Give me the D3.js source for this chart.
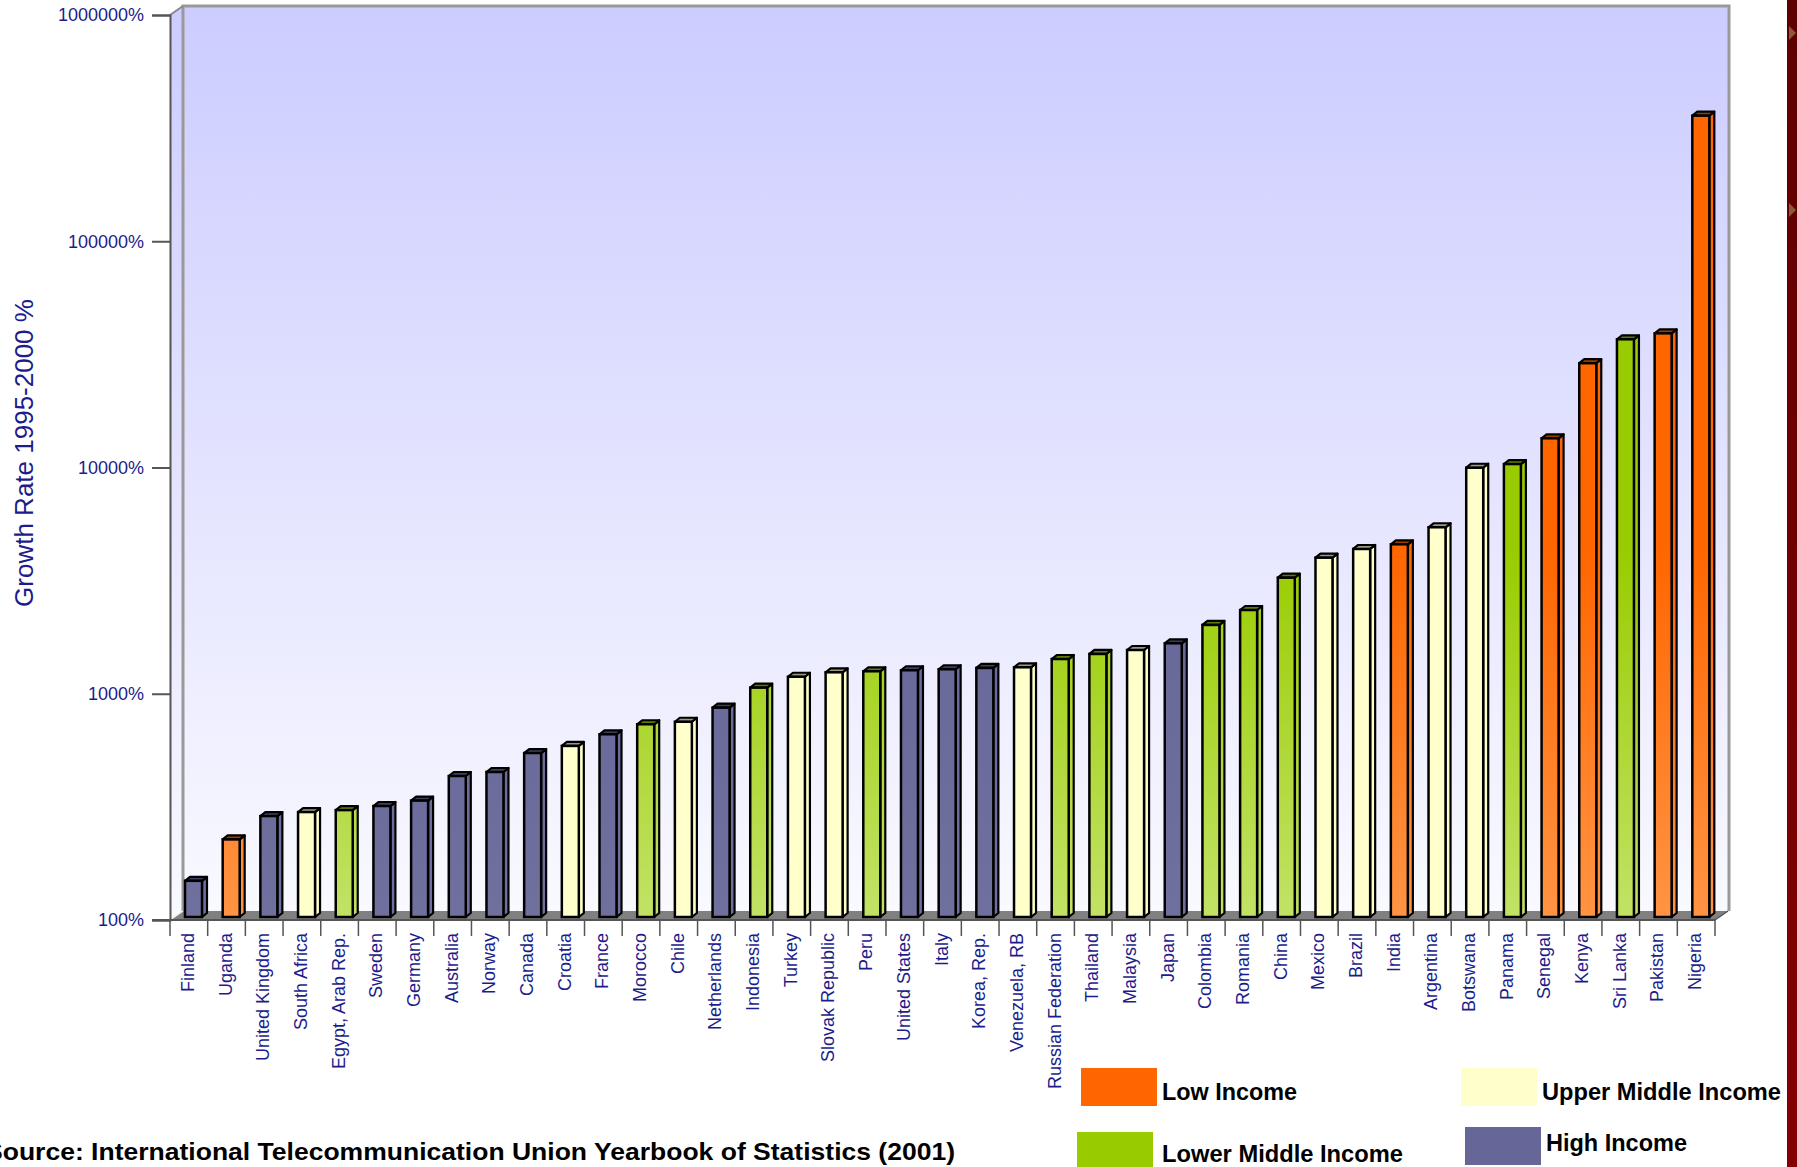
<!DOCTYPE html>
<html>
<head>
<meta charset="utf-8">
<script src="https://cdn.jsdelivr.net/npm/d3@7/dist/d3.min.js"></script>
<style>
  body { margin: 0; background: #fff; }
  svg { display: block; }
</style>
</head>
<body>
<script>
// data
const countries = ["Finland", "Uganda", "United Kingdom", "South Africa", "Egypt, Arab Rep.", "Sweden", "Germany",
  "Australia", "Norway", "Canada", "Croatia", "France", "Morocco", "Chile", "Netherlands", "Indonesia", "Turkey",
  "Slovak Republic", "Peru", "United States", "Italy", "Korea, Rep.", "Venezuela, RB", "Russian Federation",
  "Thailand", "Malaysia", "Japan", "Colombia", "Romania", "China", "Mexico", "Brazil", "India", "Argentina",
  "Botswana", "Panama", "Senegal", "Kenya", "Sri Lanka", "Pakistan", "Nigeria"];
const growth = [149, 227, 288, 300, 306, 319, 337, 433, 451, 547, 588, 662, 733, 752, 868, 1064, 1189,
  1244, 1257, 1270, 1283, 1300, 1309, 1424, 1499, 1561, 1671, 2014, 2345, 3258, 3993, 4364, 4577, 5443,
  9977, 10357, 13460, 28900, 36870, 39170, 358900];
const income = ["H", "L", "H", "UM", "LM", "H", "H", "H", "H", "H", "UM", "H", "LM", "UM", "H", "LM", "UM",
  "UM", "LM", "H", "H", "H", "UM", "LM", "LM", "UM", "H", "LM", "LM", "LM", "UM", "UM", "L", "UM",
  "UM", "LM", "L", "L", "LM", "L", "L"];
const yTicks = [100, 1000, 10000, 100000, 1000000];
const groups = ["L", "LM", "UM", "H"];
const groupNames = ["Low Income", "Lower Middle Income", "Upper Middle Income", "High Income"];

const W = 1797, H = 1167;
const colors = {L: "#FF6600", LM: "#99CC00", UM: "#FFFFCC", H: "#666699"};
const bottoms = {L: "#FF9444", LM: "#C2E266", UM: "#FFFFCC", H: "#70709E"};
const navy = "#1C1C8C";
const font = "'Liberation Sans', Arial, sans-serif";

const svg = d3.select("body").append("svg").attr("width", W).attr("height", H);
const defs = svg.append("defs");

const wall = defs.append("linearGradient").attr("id", "wall").attr("x1", 0).attr("y1", 0).attr("x2", 0).attr("y2", 1);
wall.append("stop").attr("offset", 0).attr("stop-color", "#CCCCFF");
wall.append("stop").attr("offset", 1).attr("stop-color", "#F9F9FF");

groups.forEach(g => {
  const lg = defs.append("linearGradient").attr("id", "bar" + g)
    .attr("gradientUnits", "userSpaceOnUse").attr("x1", 0).attr("y1", 100).attr("x2", 0).attr("y2", 917);
  lg.append("stop").attr("offset", 0.55).attr("stop-color", colors[g]);
  lg.append("stop").attr("offset", 1).attr("stop-color", bottoms[g]);
});

const x = d3.scaleBand().domain(countries).range([170, 1715]);
const y = d3.scaleLog().domain([100, 1000000]).range([920, 15]);
const dx = 13, dy = -9;   // depth of the box
const y0 = y(100);

// side wall, back wall, floor
svg.append("polygon")
  .attr("points", [[170, y(1e6)], [170 + dx, y(1e6) + dy], [170 + dx, y0 + dy], [170, y0]].join(" "))
  .attr("fill", "url(#wall)");
svg.append("rect")
  .attr("x", 170 + dx).attr("y", y(1e6) + dy)
  .attr("width", 1715 - 170 + 1).attr("height", y0 - y(1e6))
  .attr("fill", "url(#wall)");
svg.append("path")
  .attr("d", `M${170 + dx},${y0 + dy}V${y(1e6) + dy}H${1716 + dx}V${y0 + dy}`)
  .attr("fill", "none").attr("stroke", "#999").attr("stroke-width", 3);
svg.append("line")
  .attr("x1", 170).attr("y1", y(1e6)).attr("x2", 170 + dx).attr("y2", y(1e6) + dy)
  .attr("stroke", "#888").attr("stroke-width", 2);
svg.append("polygon")
  .attr("points", [[170, y0], [1715, y0], [1715 + dx, y0 + dy], [170 + dx, y0 + dy]].join(" "))
  .attr("fill", "#808080");
svg.append("line")
  .attr("x1", 170).attr("y1", y0).attr("x2", 170 + dx).attr("y2", y0 + dy)
  .attr("stroke", "#eee").attr("stroke-width", 1.5);

// bars
const bw = 17, bdx = 5, bdy = -4, bottom = 917;
const bars = svg.append("g").selectAll("g").data(countries).enter().append("g");
bars.each(function(d, i) {
  const g = d3.select(this);
  const x0 = x(d) + 15, top = y(growth[i]), c = income[i];
  const dark = d3.color(colors[c]).darker(1.4).formatHex();
  g.append("polygon")
    .attr("points", [[x0 + bw, top], [x0 + bw + bdx, top + bdy], [x0 + bw + bdx, bottom + bdy], [x0 + bw, bottom]].join(" "))
    .attr("fill", "url(#bar" + c + ")").attr("stroke", "#000").attr("stroke-width", 2.2).attr("stroke-linejoin", "round");
  g.append("polygon")
    .attr("points", [[x0, top], [x0 + bdx, top + bdy], [x0 + bw + bdx, top + bdy], [x0 + bw, top]].join(" "))
    .attr("fill", dark).attr("stroke", "#000").attr("stroke-width", 2.2).attr("stroke-linejoin", "round");
  g.append("rect")
    .attr("x", x0).attr("y", top).attr("width", bw).attr("height", bottom - top)
    .attr("fill", "url(#bar" + c + ")").attr("stroke", "#000").attr("stroke-width", 2.5);
});

// y axis
const yAxis = svg.append("g").attr("transform", "translate(170,0)")
  .call(d3.axisLeft(y).tickValues(yTicks).tickSize(18).tickPadding(8).tickFormat(d => d + "%"));
yAxis.select(".domain").attr("stroke", "#555").attr("stroke-width", 2);
yAxis.selectAll(".tick line").attr("stroke", "#555").attr("stroke-width", 2);
yAxis.selectAll(".tick text").attr("fill", navy).style("font-family", font).style("font-size", "18px");

// x axis line and boundary ticks
svg.append("line").attr("x1", 152).attr("x2", 1715).attr("y1", y0).attr("y2", y0)
  .attr("stroke", "#555").attr("stroke-width", 2);
svg.append("line").attr("x1", 1715).attr("y1", y0).attr("x2", 1715 + dx).attr("y2", y0 + dy)
  .attr("stroke", "#555").attr("stroke-width", 1.5);
const bounds = countries.map(d => x(d)).concat([x.range()[1]]);
svg.append("g").selectAll("line").data(bounds).enter().append("line")
  .attr("x1", d => d).attr("x2", d => d).attr("y1", y0).attr("y2", y0 + 16)
  .attr("stroke", "#555").attr("stroke-width", 1.5);

svg.append("g").selectAll("text").data(countries).enter().append("text")
  .attr("transform", d => `translate(${x(d) + x.bandwidth() / 2 + 5},933) rotate(-90)`)
  .attr("text-anchor", "end")
  .attr("fill", navy).style("font-family", font).style("font-size", "18px")
  .text(d => d);

// axis title
svg.append("text")
  .attr("transform", "translate(33,453) rotate(-90)")
  .attr("text-anchor", "middle")
  .attr("fill", navy).style("font-family", font).style("font-size", "26px")
  .text("Growth Rate 1995-2000 %");

// legend
const legendPos = {
  L: {sx: 1081, sy: 1068, tx: 1162, ty: 1100, len: 135},
  UM: {sx: 1461, sy: 1068, tx: 1542, ty: 1100, len: 239},
  LM: {sx: 1077, sy: 1132, tx: 1162, ty: 1162, len: 241},
  H: {sx: 1465, sy: 1127, tx: 1546, ty: 1151, len: 141}
};
groups.forEach((g, i) => {
  const p = legendPos[g];
  svg.append("rect").attr("x", p.sx).attr("y", p.sy).attr("width", 76).attr("height", 38).attr("fill", colors[g]);
  svg.append("text").attr("x", p.tx).attr("y", p.ty)
    .attr("textLength", p.len).attr("lengthAdjust", "spacingAndGlyphs")
    .style("font-family", font).style("font-weight", "bold").style("font-size", "24px")
    .attr("fill", "#000").text(groupNames[i]);
});

// source (cut at the left edge, as in the original)
svg.append("text").attr("x", -15).attr("y", 1160)
  .attr("textLength", 970).attr("lengthAdjust", "spacingAndGlyphs")
  .style("font-family", font).style("font-weight", "bold").style("font-size", "24px")
  .attr("fill", "#000")
  .text("Source: International Telecommunication Union Yearbook of Statistics (2001)");

// right border strip
const strip = defs.append("linearGradient").attr("id", "strip").attr("x1", 0).attr("y1", 0).attr("x2", 0).attr("y2", 1);
strip.append("stop").attr("offset", 0).attr("stop-color", "#5E0000");
strip.append("stop").attr("offset", 1).attr("stop-color", "#850000");
svg.append("rect").attr("x", 1787).attr("y", 0).attr("width", 10).attr("height", H).attr("fill", "url(#strip)");
[33, 210].forEach(ty => {
  svg.append("path").attr("d", `M1789,${ty - 7}L1796,${ty}L1789,${ty + 7}Z`).attr("fill", "#8A5A3A");
});
</script>
</body>
</html>
